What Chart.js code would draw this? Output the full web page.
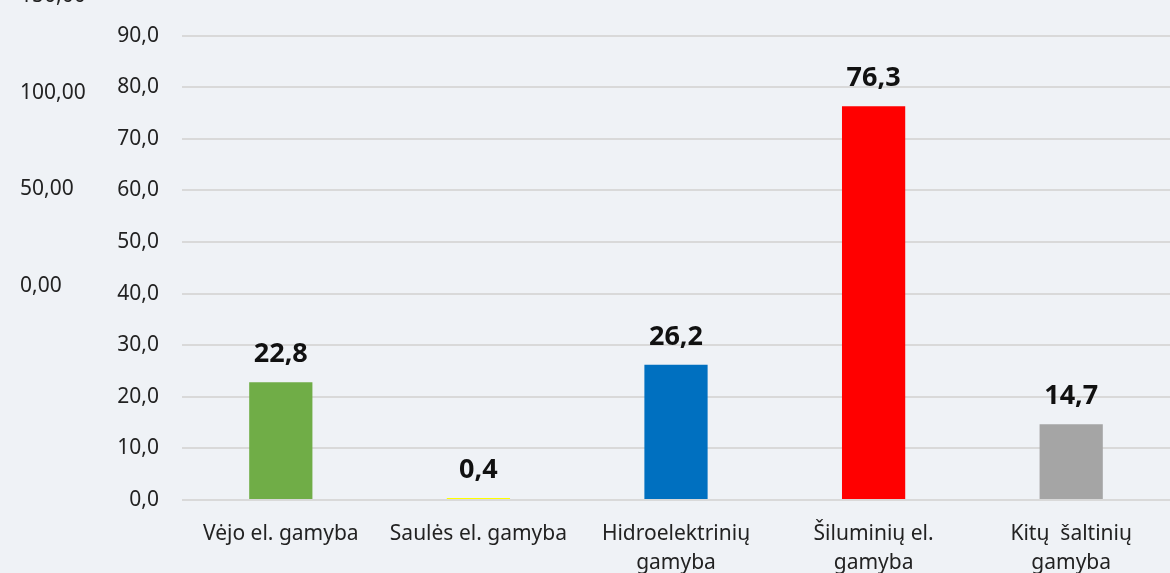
<!DOCTYPE html>
<html>
<head>
<meta charset="utf-8">
<script src="https://cdn.jsdelivr.net/npm/chart.js@4"></script>
<style>
  html, body { margin: 0; padding: 0; background: #eff2f6; overflow: hidden; }
  #wrap { position: relative; width: 1170px; height: 573px; }
</style>
</head>
<body>
<div id="wrap"><canvas id="chart1" width="1170" height="573"></canvas></div>
<script>
// chart values
var categories = ['Vėjo el. gamyba', 'Saulės el. gamyba', ['Hidroelektrinių', 'gamyba'], ['Šiluminių el.', 'gamyba'], ['Kitų  šaltinių', 'gamyba']];
var values = [22.8, 0.4, 26.2, 76.3, 14.7];
var barColors = ['#70ad47', '#ffff00', '#0070c0', '#ff0000', '#a5a5a5'];
// left leftover axis from the original sheet
var ghostTicks = [0, 50, 100, 150];

var FONT = '"Noto Sans", sans-serif';

function fmt(v, d){
	return v.toFixed(d).replace('.', ',');
}

var bg = {
	id: 'bg',
	beforeDraw: function(chart){
		var ctx = chart.ctx;
		ctx.save();
		ctx.fillStyle = '#eff2f6';
		ctx.fillRect(0, 0, chart.width, chart.height);
		ctx.restore();
	}
};

var labels = {
	id: 'labels',
	afterDatasetsDraw: function(chart){
		var ctx = chart.ctx;
		var meta = chart.getDatasetMeta(0);
		ctx.save();
		ctx.font = 'bold 27px ' + FONT;
		ctx.fillStyle = '#111';
		ctx.textAlign = 'center';
		ctx.textBaseline = 'alphabetic';
		meta.data.forEach(function(bar, i){
			ctx.fillText(fmt(values[i], 1), bar.x, bar.y - 20);
		});
		// ghost axis
		ctx.font = '21px ' + FONT;
		ctx.textAlign = 'left';
		ctx.textBaseline = 'middle';
		ctx.fillStyle = '#222';
		ghostTicks.forEach(function(t){
			ctx.fillText(fmt(t, 2), 20, 286 - t * 1.93);
		});
		ctx.restore();
	}
};

var ctx = document.getElementById('chart1').getContext('2d');
var myChart = new Chart(ctx, {
	type: 'bar',
	data: {
		labels: categories,
		datasets: [{
			data: values,
			backgroundColor: barColors,
			categoryPercentage: 1,
			barPercentage: 0.32
		}]
	},
	options: {
		responsive: false,
		animation: false,
		devicePixelRatio: 1,
		layout: { padding: { top: 20, right: 0, left: 0, bottom: 0 } },
		plugins: { legend: { display: false }, tooltip: { enabled: false } },
		scales: {
			x: {
				grid: { display: false },
				border: { display: false },
				ticks: { color: '#222', font: { family: FONT, size: 21, lineHeight: 1.4 }, padding: 11, maxRotation: 0, autoSkip: false },
				afterFit: function(s){ s.height = 73; }
			},
			y: {
				min: 0,
				max: 90,
				grid: { color: '#d9d9d9', lineWidth: 2, drawTicks: false },
				border: { display: false },
				ticks: {
					stepSize: 10,
					color: '#222',
					padding: 23,
					font: { family: FONT, size: 21 },
					callback: function(v){ return fmt(v, 1); }
				},
				afterFit: function(s){ s.width = 182; }
			}
		}
	},
	plugins: [bg, labels]
});
</script>
</body>
</html>
